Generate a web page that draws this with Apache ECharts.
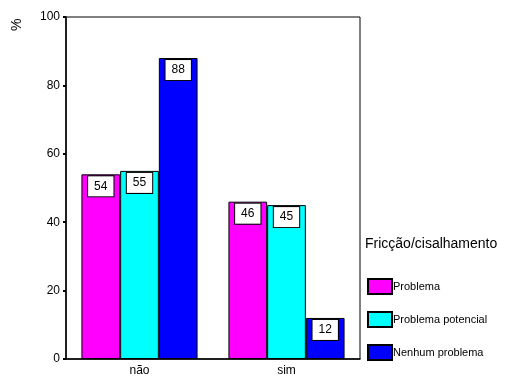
<!DOCTYPE html>
<html>
<head>
<meta charset="utf-8">
<script src="https://cdn.jsdelivr.net/npm/echarts@6/dist/echarts.min.js"></script>
<style>
  html, body { margin: 0; padding: 0; background: #fff; }
  #chart { width: 514px; height: 377px; }
</style>
</head>
<body>
<div id="chart"></div>
<script>
// Categories on the x axis
const categories = ['não', 'sim'];
// Percentages per friction/shear group
const problema = [54, 46];
const problemaPotencial = [55, 45];
const nenhumProblema = [88, 12];
const seriesNames = ['Problema', 'Problema potencial', 'Nenhum problema'];
const seriesColors = ['#ff00ff', '#00ffff', '#0000ff'];
const yTicks = { min: 0, max: 100, interval: 20 };

const FONT = 'Liberation Sans, Arial, sans-serif';

const chart = echarts.init(document.getElementById('chart'), null, { renderer: 'canvas' });

function makeSeries(name, data, color) {
  return {
    name: name,
    type: 'bar',
    data: data,
    barGap: '0%',
    barCategoryGap: '21%',
    itemStyle: { color: color, borderColor: '#000', borderWidth: 1 },
    label: {
      show: true,
      position: 'insideTop',
      distance: 2,
      color: '#000',
      fontFamily: FONT,
      fontSize: 12,
      lineHeight: 14,
      backgroundColor: '#fff',
      borderColor: '#000',
      borderWidth: 1,
      padding: [3, 6, 3, 6]
    },
    emphasis: { disabled: true },
    animation: false
  };
}

chart.setOption({
  animation: false,
  grid: {
    left: 66, right: 154, top: 17, bottom: 18,
    show: true, borderColor: '#000', borderWidth: 1, backgroundColor: 'transparent'
  },
  title: {
    text: 'Fricção/cisalhamento',
    left: 365, top: 237,
    padding: 0,
    textStyle: { fontFamily: FONT, fontSize: 14, fontWeight: 'normal', color: '#000' }
  },
  legend: {
    orient: 'vertical',
    left: 367, top: 278,
    padding: 0,
    icon: 'rect',
    itemWidth: 24, itemHeight: 15, itemGap: 16,
    selectedMode: false,
    data: seriesNames,
    textStyle: { fontFamily: FONT, fontSize: 11, color: '#000', padding: [0, 0, 0, -4] }
  },
  graphic: [{
    type: 'text',
    x: 10, y: 31,
    rotation: Math.PI / 2,
    style: { text: '%', font: '14px ' + FONT, fill: '#000' }
  }],
  xAxis: {
    type: 'category',
    data: categories,
    axisLine: { lineStyle: { color: '#000', width: 1.5 } },
    axisTick: { alignWithLabel: true, length: 3, lineStyle: { color: '#000', width: 2 } },
    axisLabel: { color: '#000', fontFamily: FONT, fontSize: 12, margin: 6 }
  },
  yAxis: {
    type: 'value',
    min: yTicks.min, max: yTicks.max, interval: yTicks.interval,
    axisLine: { show: true, lineStyle: { color: '#000', width: 1.5 } },
    axisTick: { show: true, length: 3, lineStyle: { color: '#000', width: 2 } },
    axisLabel: { color: '#000', fontFamily: FONT, fontSize: 12, margin: 6 },
    splitLine: { show: false }
  },
  series: [
    makeSeries(seriesNames[0], problema, seriesColors[0]),
    makeSeries(seriesNames[1], problemaPotencial, seriesColors[1]),
    makeSeries(seriesNames[2], nenhumProblema, seriesColors[2])
  ]
});
</script>
</body>
</html>
